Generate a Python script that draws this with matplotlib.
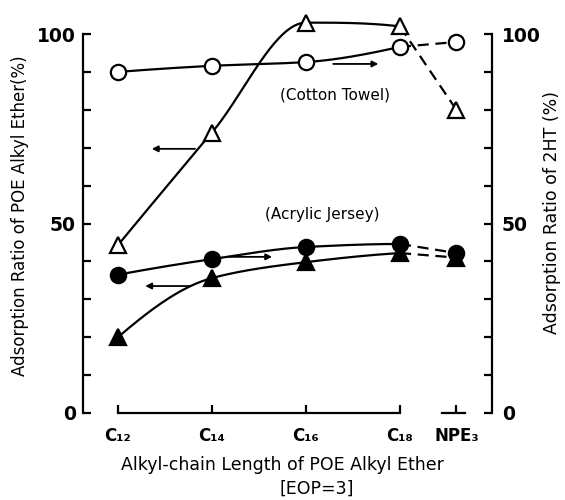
import matplotlib
matplotlib.use("Agg")
import matplotlib.pyplot as plt
import numpy as np

# categories on the x axis (NPE3 sits a bit closer to C18)
categories = ["C₁₂", "C₁₄", "C₁₆", "C₁₈", "NPE₃"]
xpos = [0, 1, 2, 3, 3.6]

# cotton towel
poe_cotton = [44.3, 74.0, 103.0, 102.0, 80.0]    # open triangles, left axis
ht_cotton = [90.0, 91.6, 92.6, 96.6, 97.9]       # open circles, right axis
# acrylic jersey
poe_acrylic = [20.0, 35.6, 39.8, 42.2, 41.0]     # filled triangles, left axis
ht_acrylic = [36.5, 40.6, 43.8, 44.6, 42.2]      # filled circles, right axis


def pchip(x, y, xs):
    # monotone cubic curve through the points (just for drawing the line)
    x = np.asarray(x, float)
    y = np.asarray(y, float)
    h = np.diff(x)
    d = np.diff(y) / h
    n = len(x)
    m = np.zeros(n)
    for k in range(1, n - 1):
        if d[k - 1] * d[k] > 0:
            w1 = 2 * h[k] + h[k - 1]
            w2 = h[k] + 2 * h[k - 1]
            m[k] = (w1 + w2) / (w1 / d[k - 1] + w2 / d[k])
    # end slopes, shape preserving
    for e, (h0, h1, d0, d1) in ((0, (h[0], h[1], d[0], d[1])),
                                (-1, (h[-1], h[-2], d[-1], d[-2]))):
        s = ((2 * h0 + h1) * d0 - h0 * d1) / (h0 + h1)
        if np.sign(s) != np.sign(d0):
            s = 0
        elif np.sign(d0) != np.sign(d1) and abs(s) > abs(3 * d0):
            s = 3 * d0
        m[e] = s
    idx = np.clip(np.searchsorted(x, xs) - 1, 0, n - 2)
    t = (xs - x[idx]) / h[idx]
    h00 = 2 * t**3 - 3 * t**2 + 1
    h10 = t**3 - 2 * t**2 + t
    h01 = -2 * t**3 + 3 * t**2
    h11 = t**3 - t**2
    return h00 * y[idx] + h10 * h[idx] * m[idx] + h01 * y[idx + 1] + h11 * h[idx] * m[idx + 1]


plt.rcParams['font.family'] = ['DejaVu Sans']
fig = plt.figure(figsize=(5.65, 5.0), dpi=100)
ax = fig.add_axes([0.1469, 0.174, 0.7239, 0.758])
ax2 = ax.twinx()

ax.set_xlim(-0.372, 3.979)
ax.set_ylim(0, 100)
ax2.set_ylim(0, 100)

lw = 1.6
xs = np.linspace(xpos[0], xpos[3], 200)


def draw(axis, yvals, marker, filled):
    axis.plot(xs, pchip(xpos[:4], yvals[:4], xs), color='black', lw=lw, clip_on=False)
    axis.plot(xpos[3:], yvals[3:], color='black', lw=lw, ls=(0, (5, 3)), clip_on=False)
    axis.plot(xpos, yvals, ls='none', marker=marker, ms=11 if marker == 'o' else 12,
              mfc='black' if filled else 'white', mec='black', mew=1.6,
              clip_on=False, zorder=5)


draw(ax, poe_cotton, '^', False)
draw(ax, poe_acrylic, '^', True)
draw(ax2, ht_cotton, 'o', False)
draw(ax2, ht_acrylic, 'o', True)

# spines
for s in ['top', 'right']:
    ax.spines[s].set_visible(False)
for s in ['top', 'left', 'bottom']:
    ax2.spines[s].set_visible(False)
ax.spines['bottom'].set_bounds(0, 3)
ax.spines['left'].set_linewidth(lw)
ax.spines['bottom'].set_linewidth(lw)
ax2.spines['right'].set_linewidth(lw)
ax.plot([3.45, 3.69], [0, 0], color='black', lw=lw, clip_on=False)

# ticks
ax.set_xticks(xpos)
ax.set_xticklabels(categories)
ax.tick_params(axis='x', direction='in', length=6, width=lw, pad=10, labelsize=12)
for t in ax.get_xticklabels():
    t.set_fontweight('bold')

for a in (ax, ax2):
    a.set_yticks([0, 50, 100])
    a.set_yticks(np.arange(0, 101, 10), minor=True)
    a.tick_params(axis='y', which='both', direction='in', length=6, width=lw, labelsize=13.5)
    for t in a.get_yticklabels():
        t.set_fontweight('bold')
ax.tick_params(axis='y', pad=5)
ax2.tick_params(axis='y', pad=7)

# axis labels
ax.set_ylabel("Adsorption Ratio of POE Alkyl Ether(%)", fontsize=12, va='center')
ax.yaxis.set_label_coords(-0.154, 0.52)
ax2.set_ylabel("Adsorption Ratio of 2HT (%)", fontsize=12.5, va='center')
ax2.yaxis.set_label_coords(1.147, 0.53)
ax.set_xlabel("Alkyl-chain Length of POE Alkyl Ether", fontsize=12.5, va='center')
ax.xaxis.set_label_coords(0.487, -0.137)
ax.text(0.572, -0.2, "[EOP=3]", transform=ax.transAxes, fontsize=12.5,
        ha='center', va='center')

# annotations
ax.text(2.31, 83.9, "(Cotton Towel)", fontsize=11, ha='center', va='center')
ax.text(2.17, 52.5, "(Acrylic Jersey)", fontsize=11, ha='center', va='center')

arrows = [((0.82, 69.7), (0.36, 69.7)),
          ((2.29, 92.1), (2.77, 92.1)),
          ((1.17, 41.2), (1.64, 41.2)),
          ((0.77, 33.5), (0.29, 33.5))]
for tail, head in arrows:
    ax.annotate("", xy=head, xytext=tail,
                arrowprops=dict(arrowstyle='-|>', lw=1.3, color='black',
                                mutation_scale=9, shrinkA=0, shrinkB=0))

fig.savefig("out.png", dpi=100)
